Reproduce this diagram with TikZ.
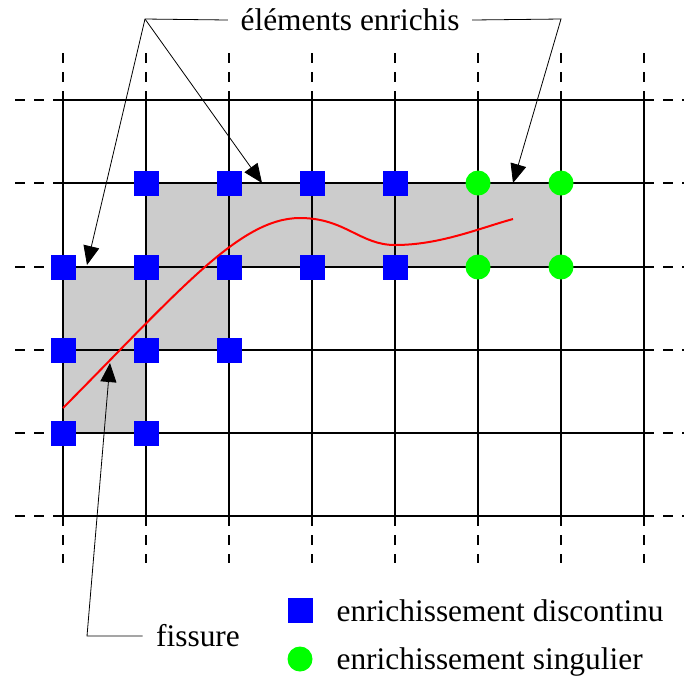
\documentclass[tikz,border=0pt]{standalone}
\usepackage{fontspec}
\setmainfont{Liberation Serif}
\usetikzlibrary{arrows.meta}

\begin{document}
\begin{tikzpicture}[x=.5pt,y=-.5pt,line width=.6pt,
  solidline/.style={line width=.6pt},
  dashline/.style={line width=.6pt,dash pattern=on 5pt off 4.5pt},
  discnode/.style={fill=blue,minimum size=12.5pt,inner sep=0pt},
  singnode/.style={circle,fill=green,minimum size=12.5pt,inner sep=0pt},
  leader/.style={line width=.4pt,-{Triangle[length=9.5pt,width=8pt]}},
  lbl/.style={font=\fontsize{15.7}{19}\selectfont}]
\path[use as bounding box] (0,0) rectangle (684,677);
\fill[black!20] (63,433) -- (146,433) -- (146,350) -- (229,350) -- (229,267) -- (561,267) -- (561,183) -- (146,183) -- (146,267) -- (63,267) -- cycle;
\draw[dashline] (15,100) -- (63,100);
\draw[dashline] (15,183) -- (63,183);
\draw[dashline] (15,267) -- (63,267);
\draw[dashline] (15,350) -- (63,350);
\draw[dashline] (15,433) -- (63,433);
\draw[dashline] (15,516) -- (63,516);
\draw[dashline] (644,100) -- (692,100);
\draw[dashline] (644,183) -- (692,183);
\draw[dashline] (644,267) -- (692,267);
\draw[dashline] (644,350) -- (692,350);
\draw[dashline] (644,433) -- (692,433);
\draw[dashline] (644,516) -- (692,516);
\draw[dashline] (63,53) -- (63,100);
\draw[dashline] (146,53) -- (146,100);
\draw[dashline] (229,53) -- (229,100);
\draw[dashline] (312,53) -- (312,100);
\draw[dashline] (395,53) -- (395,100);
\draw[dashline] (478,53) -- (478,100);
\draw[dashline] (561,53) -- (561,100);
\draw[dashline] (644,53) -- (644,100);
\draw[dashline] (63,516) -- (63,563);
\draw[dashline] (146,516) -- (146,563);
\draw[dashline] (229,516) -- (229,563);
\draw[dashline] (312,516) -- (312,563);
\draw[dashline] (395,516) -- (395,563);
\draw[dashline] (478,516) -- (478,563);
\draw[dashline] (561,516) -- (561,563);
\draw[dashline] (644,516) -- (644,563);
\draw[solidline] (63,100) -- (644,100);
\draw[solidline] (63,183) -- (644,183);
\draw[solidline] (63,267) -- (644,267);
\draw[solidline] (63,350) -- (644,350);
\draw[solidline] (63,433) -- (644,433);
\draw[solidline] (63,516) -- (644,516);
\draw[solidline] (63,100) -- (63,516);
\draw[solidline] (146,100) -- (146,516);
\draw[solidline] (229,100) -- (229,516);
\draw[solidline] (312,100) -- (312,516);
\draw[solidline] (395,100) -- (395,516);
\draw[solidline] (478,100) -- (478,516);
\draw[solidline] (561,100) -- (561,516);
\draw[solidline] (644,100) -- (644,516);
% noeuds enrichis
\node[discnode] (d14) at (146,183) {};
\node[discnode] (d24) at (229,183) {};
\node[discnode] (d34) at (312,183) {};
\node[discnode] (d44) at (395,183) {};
\node[discnode] (d03) at (63,267) {};
\node[discnode] (d13) at (146,267) {};
\node[discnode] (d23) at (229,267) {};
\node[discnode] (d33) at (312,267) {};
\node[discnode] (d43) at (395,267) {};
\node[discnode] (d02) at (63,350) {};
\node[discnode] (d12) at (146,350) {};
\node[discnode] (d22) at (229,350) {};
\node[discnode] (d01) at (63,433) {};
\node[discnode] (d11) at (146,433) {};
\node[singnode] (s54) at (478,183) {};
\node[singnode] (s64) at (561,183) {};
\node[singnode] (s53) at (478,267) {};
\node[singnode] (s63) at (561,267) {};
% fissure
\draw[red,line width=1pt] (63,408) .. controls (180,290) and (240,218) .. (300,218) .. controls (345,218) and (360,245) .. (395,245) .. controls (440,245) and (480,228) .. (513,219);
% legendes
\node[lbl,inner sep=6pt] (elem) at (350,20) {éléments enrichis};
\coordinate (kl) at (145,19);
\coordinate (kr) at (561,19);
\coordinate (tl) at (87,265);
\coordinate (tm) at (262,183);
\coordinate (tr) at (513,183);
\draw[leader] (elem.west) -- (kl) -- (tl);
\draw[leader] (kl) -- (tm);
\draw[leader] (elem.east) -- (kr) -- (tr);
\node[lbl,inner sep=6.5pt] (fis) at (198,636) {fissure};
\coordinate (kf) at (87,636);
\coordinate (tf) at (110,363);
\draw[leader] (fis.west) -- (kf) -- (tf);
\node[discnode] (legd) at (300,610) {};
\node[singnode] (legs) at (300,659) {};
\node[lbl,anchor=base west,inner sep=0pt] (legdt) at (336,621) {enrichissement discontinu};
\node[lbl,anchor=base west,inner sep=0pt] (legst) at (336,669) {enrichissement singulier};
\end{tikzpicture}
\end{document}
